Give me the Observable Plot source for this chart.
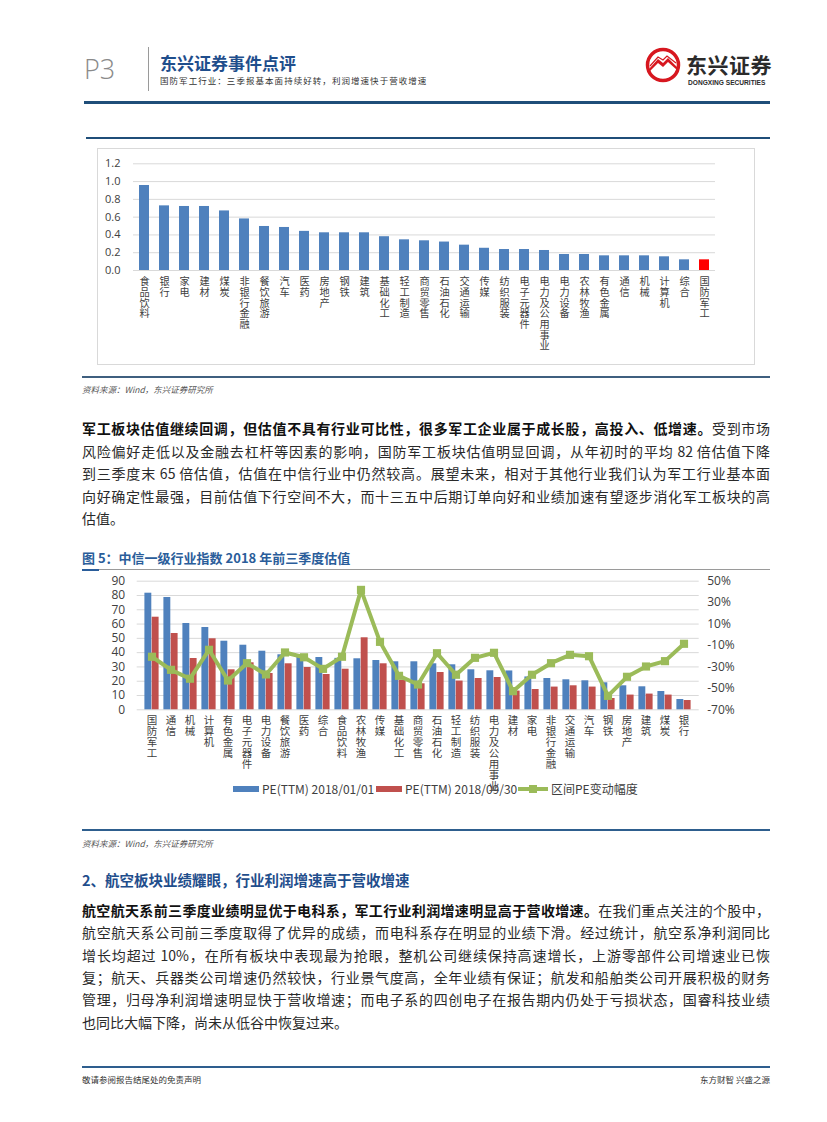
<!DOCTYPE html>
<html><head><meta charset="utf-8">
<script src="https://cdn.jsdelivr.net/npm/d3@7"></script>
<script src="https://cdn.jsdelivr.net/npm/@observablehq/plot@0.6"></script>
<style>
html,body{margin:0;padding:0;background:#fff;}
body{width:827px;height:1122px;position:relative;overflow:hidden;font-family:"Noto Sans CJK SC","Noto Sans",sans-serif;color:#222;}
.a{position:absolute;white-space:nowrap;}
.line{position:absolute;}
.para div{position:absolute;left:82px;width:688px;height:22px;line-height:22px;font-size:14px;text-align:justify;text-align-last:justify;white-space:nowrap;color:#2a2a2a;}
.para div.last{text-align-last:left;}
.para b{font-weight:700;color:#111;}
.src{font-size:8.5px;font-style:italic;color:#555;left:82px;}
.leg{position:absolute;font-size:12px;color:#404040;line-height:14px;font-family:"Noto Sans CJK SC",sans-serif;}
</style></head><body>

<!-- header -->
<div class="a" style="left:84px;top:52px;font-family:'Open Sans',sans-serif;font-weight:300;font-size:27px;color:#8a8a8a;line-height:34px;">P3</div>
<div class="line" style="left:148px;top:47px;width:1px;height:44px;background:#9a9a9a;"></div>
<div class="a" style="left:160px;top:52px;font-size:17px;font-weight:700;color:#1f4e8c;line-height:22px;">东兴证券事件点评</div>
<div class="a" style="left:160px;top:74px;font-size:8.5px;color:#333;line-height:12px;letter-spacing:1.05px;">国防军工行业：三季报基本面持续好转，利润增速快于营收增速</div>
<svg class="a" style="left:645px;top:47px;" width="36" height="36" viewBox="0 0 36 36">
  <circle cx="18" cy="18" r="15.5" fill="#fff" stroke="#d7171f" stroke-width="3.5"/>
  <path d="M4 22 L13 12 L18 16 L23 11 L32 20 L32 23 L23 15 L18 20 L13 16 L4 25 Z" fill="#d7171f"/>
  <path d="M5 19 L13 10 L18 13 L22 9 L31 16" fill="none" stroke="#d7171f" stroke-width="1.2"/>
</svg>
<div class="a" style="left:686px;top:50px;font-size:21px;font-weight:700;color:#2b2b2b;line-height:28px;letter-spacing:0.5px;">东兴证券</div>
<div class="a" style="left:688px;top:79px;font-family:'Liberation Sans',sans-serif;font-size:6.6px;font-weight:700;color:#2b2b2b;line-height:8px;">DONGXING SECURITIES</div>
<div class="line" style="left:84px;top:101px;width:686px;height:3px;background:#1f4e79;"></div>
<div class="line" style="left:86px;top:137px;width:684px;height:1.5px;background:#1f4e79;"></div>

<!-- chart 1 -->
<div class="line" style="left:97px;top:148px;width:656px;height:215px;border:1px solid #d9d9d9;"></div>
<div id="c1" class="a" style="left:97px;top:148px;"></div>
<div class="line" style="left:82px;top:376px;width:688px;height:2px;background:#3f5f7f;"></div>
<div class="a src" style="top:383px;line-height:12px;">资料来源：Wind，东兴证券研究所</div>

<!-- paragraph 1 -->
<div class="para">
<div style="top:417px;"><b>军工板块估值继续回调，但估值不具有行业可比性，很多军工企业属于成长股，高投入、低增速。</b>受到市场</div>
<div style="top:440px;">风险偏好走低以及金融去杠杆等因素的影响，国防军工板块估值明显回调，从年初时的平均 82 倍估值下降</div>
<div style="top:462px;">到三季度末 65 倍估值，估值在中信行业中仍然较高。展望未来，相对于其他行业我们认为军工行业基本面</div>
<div style="top:485px;">向好确定性最强，目前估值下行空间不大，而十三五中后期订单向好和业绩加速有望逐步消化军工板块的高</div>
<div class="last" style="top:507px;">估值。</div>
</div>

<!-- chart 2 title -->
<div class="a" style="left:82px;top:549px;font-size:13px;font-weight:700;color:#2a5d9a;line-height:18px;">图 5：中信一级行业指数 2018 年前三季度估值</div>
<div class="line" style="left:82px;top:569px;width:688px;height:1px;background:#9a9a9a;"></div>
<div class="line" style="left:82px;top:568.5px;width:17px;height:2px;background:#2a5d9a;"></div>
<div id="c2" class="a" style="left:80px;top:570px;"></div>

<!-- legend chart 2 -->
<div class="line" style="left:233px;top:786px;width:26px;height:6px;background:#4f81bd;"></div>
<div class="leg" style="left:262px;top:782px;">PE(TTM) 2018/01/01</div>
<div class="line" style="left:376px;top:786px;width:26px;height:6px;background:#c0504d;"></div>
<div class="leg" style="left:405px;top:782px;">PE(TTM) 2018/09/30</div>
<div class="line" style="left:518px;top:787px;width:30px;height:4px;background:#9bbb59;"></div>
<div class="line" style="left:529px;top:785px;width:8px;height:8px;background:#9bbb59;"></div>
<div class="leg" style="left:551px;top:782px;">区间PE变动幅度</div>

<div class="line" style="left:82px;top:829px;width:688px;height:1.5px;background:#2e5e8e;"></div>
<div class="a src" style="top:837px;line-height:12px;">资料来源：Wind，东兴证券研究所</div>

<!-- section 2 -->
<div class="a" style="left:82px;top:869px;font-size:14.5px;font-weight:700;color:#1f4e8c;line-height:22px;">2、航空板块业绩耀眼，行业利润增速高于营收增速</div>
<div class="para">
<div style="top:899px;"><b>航空航天系前三季度业绩明显优于电科系，军工行业利润增速明显高于营收增速。</b>在我们重点关注的个股中，</div>
<div style="top:921px;">航空航天系公司前三季度取得了优异的成绩，而电科系存在明显的业绩下滑。经过统计，航空系净利润同比</div>
<div style="top:944px;">增长均超过 10%，在所有板块中表现最为抢眼，整机公司继续保持高速增长，上游零部件公司增速业已恢</div>
<div style="top:966px;">复；航天、兵器类公司增速仍然较快，行业景气度高，全年业绩有保证；航发和船舶类公司开展积极的财务</div>
<div style="top:988px;">管理，归母净利润增速明显快于营收增速；而电子系的四创电子在报告期内仍处于亏损状态，国睿科技业绩</div>
<div class="last" style="top:1011px;">也同比大幅下降，尚未从低谷中恢复过来。</div>
</div>

<!-- footer -->
<div class="line" style="left:82px;top:1066px;width:688px;height:1.5px;background:#2e5e8e;"></div>
<div class="a" style="left:82px;top:1073px;font-size:8.5px;color:#333;line-height:12px;">敬请参阅报告结尾处的免责声明</div>
<div class="a" style="left:690px;top:1073px;font-size:8.5px;color:#333;line-height:12px;width:80px;text-align:right;">东方财智 兴盛之源</div>

<script>
// ---------- Chart 1 data ----------
const pegCats = ["食品饮料","银行","家电","建材","煤炭","非银行金融","餐饮旅游","汽车","医药","房地产","钢铁","建筑","基础化工","轻工制造","商贸零售","石油石化","交通运输","传媒","纺织服装","电子元器件","电力及公用事业","电力设备","农林牧渔","有色金属","通信","机械","计算机","综合","国防军工"];
const pegValues = [0.956,0.727,0.72,0.72,0.67,0.58,0.495,0.484,0.44,0.424,0.424,0.424,0.38,0.345,0.334,0.32,0.285,0.25,0.236,0.236,0.225,0.18,0.18,0.165,0.165,0.165,0.154,0.12,0.12];
const pegHighlight = "国防军工";
const pegTicks = [0,0.2,0.4,0.6,0.8,1.0,1.2];

// ---------- Chart 2 data ----------
const peCats = ["国防军工","通信","机械","计算机","有色金属","电子元器件","电力设备","餐饮旅游","医药","综合","食品饮料","农林牧渔","传媒","基础化工","商贸零售","石油石化","轻工制造","纺织服装","电力及公用事业","建材","家电","非银行金融","交通运输","汽车","钢铁","房地产","建筑","煤炭","银行"];
const pe20180101 = [81.6,78.6,60.4,57.6,48.0,45.2,41.0,38.5,37.0,36.6,36.0,35.7,34.5,33.6,33.6,32.2,31.5,28.0,27.3,27.2,23.0,21.9,21.0,20.3,18.9,16.8,16.1,12.8,7.2];
const pe20180930 = [64.8,53.4,35.9,49.7,28.0,32.9,25.4,32.2,29.6,24.7,28.4,50.4,32.2,20.5,18.2,26.1,20.1,21.9,22.6,13.1,14.2,15.9,16.8,15.9,7.9,10.3,11.0,10.3,6.5];
const peChangePct = [-20.5,-32.7,-41.0,-14.0,-42.7,-26.5,-37.0,-16.5,-21.0,-31.8,-20.5,41.9,-6.6,-38.3,-46.4,-17.2,-37.3,-21.5,-16.8,-52.6,-37.3,-26.5,-18.7,-20.0,-57.0,-39.2,-29.6,-24.6,-8.4];
const peLeftTicks = [0,10,20,30,40,50,60,70,80,90];
const peRightTicks = [50,30,10,-10,-30,-50,-70];
const seriesNames = ["PE(TTM) 2018/01/01","PE(TTM) 2018/09/30","区间PE变动幅度"];

// right axis (-70%..50%) mapped onto left axis (0..90)
const pctMin = -70, pctMax = 50, leftMax = 90;
const toLeft = p => (p - pctMin) / (pctMax - pctMin) * leftMax;

const numFont = "'Open Sans','Noto Sans',sans-serif";
const cjkFont = "'Noto Sans CJK SC',sans-serif";
const vert = s => [...s].join("\n");

// ---------- Chart 1 ----------
const peg = pegCats.map((c, i) => ({cat: c, v: pegValues[i]}));
const c1 = Plot.plot({
  width: 658, height: 217,
  marginLeft: 36, marginRight: 40, marginTop: 15.3, marginBottom: 95,
  style: {background: "transparent", fontFamily: numFont, color: "#404040", overflow: "visible"},
  x: {domain: pegCats, padding: 0, axis: null},
  y: {domain: [0, 1.2], axis: null},
  marks: [
    Plot.ruleY(pegTicks, {stroke: "#d9d9d9", strokeWidth: 1}),
    Plot.barY(peg, {x: "cat", y: "v", fill: d => d.cat === pegHighlight ? "#ff0000" : "#4f81bd", insetLeft: 5, insetRight: 5}),
    Plot.axisY({ticks: pegTicks, label: null, tickSize: 0, tickPadding: 13, tickFormat: d => d.toFixed(1), fontSize: 11, fill: "#404040"}),
    Plot.text(pegCats, {x: d => d, frameAnchor: "bottom", dy: 7, text: vert, lineAnchor: "top", lineHeight: 1.05, fontSize: 10.2, fill: "#404040", fontFamily: cjkFont})
  ]
});
document.getElementById("c1").appendChild(c1);

// ---------- Chart 2 ----------
const pe = peCats.map((c, i) => ({cat: c, a: pe20180101[i], b: pe20180930[i], chg: peChangePct[i]}));
const c2 = Plot.plot({
  width: 680, height: 230,
  marginLeft: 56.7, marginRight: 61.3, marginTop: 10.7, marginBottom: 90.7,
  style: {background: "transparent", fontFamily: numFont, color: "#404040", overflow: "visible"},
  x: {domain: peCats, padding: 0, axis: null},
  y: {domain: [0, leftMax], axis: null},
  marks: [
    Plot.ruleY(peLeftTicks, {stroke: "#d9d9d9", strokeWidth: 1}),
    Plot.barY(pe, {x: "cat", y: "a", fill: "#4f81bd", insetLeft: 2.4, insetRight: 9.7}),
    Plot.barY(pe, {x: "cat", y: "b", fill: "#c0504d", insetLeft: 9.7, insetRight: 2.4}),
    Plot.line(pe, {x: "cat", y: d => toLeft(d.chg), stroke: "#9bbb59", strokeWidth: 4, strokeLinejoin: "miter"}),
    Plot.dot(pe, {x: "cat", y: d => toLeft(d.chg), symbol: "square", r: 4.6, fill: "#9bbb59", stroke: "none"}),
    Plot.axisY({ticks: peLeftTicks, label: null, tickSize: 0, tickPadding: 12, fontSize: 12, fill: "#404040"}),
    Plot.text(peRightTicks, {y: toLeft, frameAnchor: "right", dx: 8, text: d => d + "%", textAnchor: "start", fontSize: 12, fill: "#404040"}),
    Plot.text(peCats, {x: d => d, frameAnchor: "bottom", dy: 6, text: vert, lineAnchor: "top", lineHeight: 1.05, fontSize: 10.5, fill: "#404040", fontFamily: cjkFont})
  ]
});
document.getElementById("c2").appendChild(c2);
</script>
</body></html>
